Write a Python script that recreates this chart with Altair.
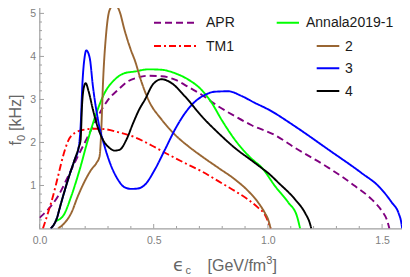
import altair as alt
import pandas as pd

# ---- data ----
APR_EPS = [0.0, 0.037, 0.081, 0.125, 0.168, 0.212, 0.256, 0.300, 0.343, 0.387, 0.431, 0.476, 0.535,
           0.593, 0.652, 0.710, 0.783, 0.856, 0.929, 1.031, 1.120, 1.266, 1.383, 1.456, 1.500, 1.521, 1.532]
APR_F = [0.25, 0.44, 0.75, 1.21, 1.68, 2.14, 2.61, 2.99, 3.22, 3.42, 3.51, 3.55, 3.54,
         3.46, 3.29, 3.11, 2.84, 2.61, 2.40, 2.17, 1.87, 1.41, 0.98, 0.67, 0.40, 0.20, 0.0]

TM1_EPS = [0.015, 0.037, 0.059, 0.081, 0.103, 0.125, 0.154, 0.198, 0.241, 0.285, 0.343, 0.418, 0.491,
           0.564, 0.637, 0.710, 0.783, 0.856, 0.914, 0.958, 0.987, 1.001, 1.012]
TM1_F = [0.0, 0.36, 0.75, 1.21, 1.68, 2.03, 2.22, 2.30, 2.32, 2.31, 2.24, 2.12, 1.93,
         1.72, 1.52, 1.33, 1.10, 0.87, 0.67, 0.48, 0.32, 0.16, 0.0]

ANN_EPS = [0.068, 0.103, 0.139, 0.176, 0.212, 0.249, 0.285, 0.329, 0.372, 0.418, 0.476, 0.535, 0.593,
           0.652, 0.710, 0.754, 0.797, 0.856, 0.929, 0.974, 1.032, 1.090, 1.127, 1.141]
ANN_F = [0.17, 0.29, 0.75, 1.37, 2.06, 2.68, 3.15, 3.46, 3.61, 3.65, 3.70, 3.69, 3.61,
         3.46, 3.22, 2.92, 2.53, 2.06, 1.62, 1.41, 0.98, 0.60, 0.29, 0.0]

EOS2_EPS = [0.081, 0.110, 0.139, 0.168, 0.198, 0.227, 0.249, 0.263, 0.270, 0.278, 0.292, 0.307, 0.329,
            0.351, 0.372, 0.400, 0.418, 0.447, 0.476, 0.535, 0.593, 0.652, 0.710, 0.783, 0.856, 0.914,
            0.958, 0.987, 1.001, 1.012]
EOS2_F = [0.0, 0.13, 0.36, 0.75, 1.10, 1.37, 1.52, 1.68, 2.22, 3.38, 4.54, 5.08, 5.22,
          5.04, 4.62, 4.15, 3.90, 3.40, 3.00, 2.53, 2.18, 1.91, 1.68, 1.41, 1.14, 0.87,
          0.60, 0.36, 0.21, 0.0]

EOS3_EPS = [0.049, 0.074, 0.095, 0.125, 0.154, 0.171, 0.180, 0.188, 0.198, 0.205, 0.220, 0.234, 0.256,
            0.285, 0.314, 0.343, 0.372, 0.402, 0.431, 0.462, 0.505, 0.549, 0.593, 0.637, 0.681, 0.726,
            0.768, 0.826, 0.885, 0.943, 1.001, 1.120, 1.266, 1.410, 1.485, 1.543, 1.572, 1.584, 1.588]
EOS3_F = [0.0, 0.21, 0.60, 1.14, 1.60, 1.87, 2.37, 3.38, 4.00, 4.14, 3.96, 3.30, 2.53,
          1.91, 1.45, 1.14, 0.96, 0.92, 0.93, 1.02, 1.37, 1.83, 2.30, 2.68, 2.95, 3.11,
          3.18, 3.19, 3.08, 2.92, 2.77, 2.37, 1.83, 1.29, 0.98, 0.60, 0.36, 0.14, 0.0]

EOS4_EPS = [0.049, 0.074, 0.095, 0.125, 0.154, 0.171, 0.180, 0.186, 0.195, 0.202, 0.215, 0.234, 0.256,
            0.278, 0.307, 0.329, 0.351, 0.380, 0.410, 0.435, 0.462, 0.498, 0.535, 0.578, 0.637, 0.710,
            0.783, 0.856, 0.929, 0.974, 1.001, 1.047, 1.120, 1.163, 1.185, 1.190]
EOS4_F = [0.0, 0.21, 0.60, 1.14, 1.60, 1.87, 2.06, 2.84, 3.30, 3.38, 3.19, 2.76, 2.34,
          2.06, 1.87, 1.81, 1.83, 2.06, 2.45, 2.75, 3.00, 3.36, 3.47, 3.38, 3.07, 2.61,
          2.22, 1.87, 1.58, 1.40, 1.29, 1.06, 0.67, 0.36, 0.10, 0.0]

SERIES = ["APR", "TM1", "Annala2019-1", "2", "3", "4"]
X_MAJOR = [0.0, 0.5, 1.0, 1.5]
X_MINOR = [0.1, 0.2, 0.3, 0.4, 0.6, 0.7, 0.8, 0.9, 1.1, 1.2, 1.3, 1.4, 1.6]
Y_MAJOR = [1, 2, 3, 4, 5]
Y_MINOR = [0.2, 0.4, 0.6, 0.8, 1.2, 1.4, 1.6, 1.8, 2.2, 2.4, 2.6, 2.8, 3.2, 3.4, 3.6, 3.8,
           4.2, 4.4, 4.6, 4.8, 5.2]

# ---- styles ----
COLORS = ["#800080", "#ff0000", "#00ff00", "#996633", "#0000ff", "#000000"]
DASHES = [[7, 4], [7, 3, 2, 3], [1, 0], [1, 0], [1, 0], [1, 0]]
W, H = 370, 228
FONT = "Liberation Sans"
FRAME = "#a0a0a0"

curves = [(APR_EPS, APR_F), (TM1_EPS, TM1_F), (ANN_EPS, ANN_F),
          (EOS2_EPS, EOS2_F), (EOS3_EPS, EOS3_F), (EOS4_EPS, EOS4_F)]
frames = []
for name, (e, f) in zip(SERIES, curves):
    frames.append(pd.DataFrame({"eps": e, "f": f, "series": name}))
df = pd.concat(frames, ignore_index=True)

xs = alt.Scale(domain=[0, 1.62], nice=False, zero=False)
ys = alt.Scale(domain=[0, 5.3], nice=False, zero=False)

layers = []

# axes with labels only (frame drawn by view stroke)
axes = alt.Chart(pd.DataFrame({"eps": [0.0], "f": [0.0]})).mark_point(opacity=0).encode(
    x=alt.X("eps:Q", scale=xs, axis=alt.Axis(values=X_MAJOR, format=".1f", title=None, ticks=False,
                                             domain=False, grid=False, labelPadding=7, labelFlush=False,
                                             labelFontSize=10.5, labelColor="#808080", labelFont=FONT)),
    y=alt.Y("f:Q", scale=ys, axis=alt.Axis(values=Y_MAJOR, format="d", title=None, ticks=False,
                                           domain=False, grid=False, labelPadding=4, labelFlush=False,
                                           labelFontSize=10.5, labelColor="#808080", labelFont=FONT)),
)
layers.append(axes)

# inward ticks
def xticks(vals, length):
    d = pd.DataFrame({"eps": vals})
    b = alt.Chart(d).mark_rule(color=FRAME, strokeWidth=1).encode(
        x=alt.X("eps:Q", scale=xs), y=alt.value(H), y2=alt.value(H - length))
    t = alt.Chart(d).mark_rule(color=FRAME, strokeWidth=1).encode(
        x=alt.X("eps:Q", scale=xs), y=alt.value(0), y2=alt.value(length))
    return [b, t]

def yticks(vals, length):
    d = pd.DataFrame({"f": vals})
    l = alt.Chart(d).mark_rule(color=FRAME, strokeWidth=1).encode(
        y=alt.Y("f:Q", scale=ys), x=alt.value(0), x2=alt.value(length))
    r = alt.Chart(d).mark_rule(color=FRAME, strokeWidth=1).encode(
        y=alt.Y("f:Q", scale=ys), x=alt.value(W), x2=alt.value(W - length))
    return [l, r]

layers += xticks(X_MINOR, 2.5) + xticks(X_MAJOR, 4.5) + yticks(Y_MINOR, 2.5) + yticks(Y_MAJOR, 4.5)

# curves
for name, col, dash in zip(SERIES, COLORS, DASHES):
    layers.append(
        alt.Chart(df).transform_filter(alt.datum.series == name)
        .mark_line(color=col, strokeWidth=1.9, strokeDash=dash, interpolate="monotone", clip=True)
        .encode(x=alt.X("eps:Q", scale=xs), y=alt.Y("f:Q", scale=ys), order="eps:Q")
    )

# legend (Mathematica-style, inside the frame)
LEG_POS = [  # x1, x2, y, text x
    (114.5, 157.5, 22.2, 166.5),
    (114.5, 157.5, 45.5, 166.5),
    (237.2, 259.5, 22.2, 266.5),
    (277.2, 299.8, 45.5, 305.5),
    (277.2, 299.8, 67.8, 305.5),
    (277.2, 299.8, 90.5, 305.5),
]
one = pd.DataFrame({"a": [0]})
for name, col, dash, (x1, x2, y, tx) in zip(SERIES, COLORS, DASHES, LEG_POS):
    layers.append(alt.Chart(one).mark_rule(color=col, strokeWidth=1.9, strokeDash=dash).encode(
        x=alt.value(x1), x2=alt.value(x2), y=alt.value(y)))
    layers.append(alt.Chart(one).mark_text(text=name, align="left", baseline="middle", font=FONT,
                                           fontSize=14, color="#1a1a1a").encode(
        x=alt.value(tx), y=alt.value(y + 0.5)))

# axis titles (with sub/superscripts)
TITLE_COL = "#666666"
def txt(s, x, y, size, angle=0, font=FONT):
    return alt.Chart(one).mark_text(text=s, align="left", baseline="alphabetic", font=font,
                                    fontSize=size, color=TITLE_COL, angle=angle).encode(
        x=alt.value(x), y=alt.value(y))

TB = 270.5  # x-title baseline (plot coords)
YB = -18.5  # y-title baseline (plot coords)
layers += [
    txt("ϵ", 133.5, TB, 18, font="DejaVu Sans"),
    txt("c", 146, TB + 3, 11),
    txt("[GeV/fm", 168, TB, 16),
    txt("3", 226.7, TB - 7, 11),
    txt("]", 233, TB, 16),
    txt("f", YB, 145, 16, 270),
    txt("0", YB + 3.5, 140.6, 11, 270),
    txt("[kHz]", YB, 130.5, 16, 270),
]

chart = alt.layer(*layers).properties(
    width=W, height=H,
    autosize=alt.AutoSizeParams(type="none"),
    padding={"left": 31.5, "top": -7.5, "right": -7.5, "bottom": 48},
).configure_view(stroke=FRAME, strokeWidth=1.2)

chart.save("out.html", embed_options={"renderer": "svg", "actions": False})
